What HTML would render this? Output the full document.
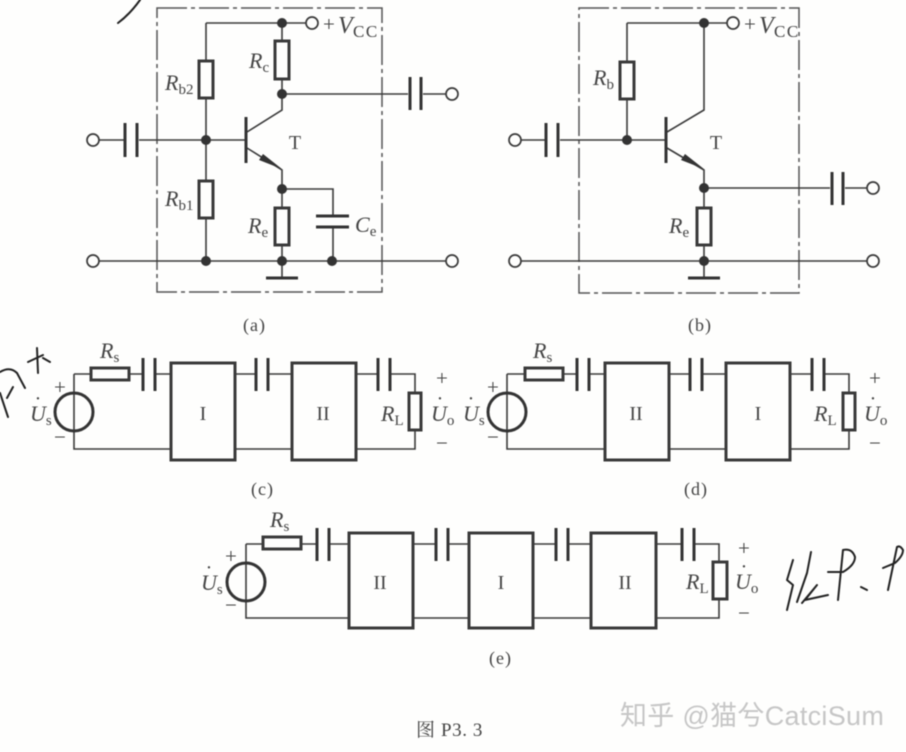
<!DOCTYPE html>
<html>
<head>
<meta charset="utf-8">
<style>
html,body{margin:0;padding:0;background:#fefefd;width:906px;height:752px;overflow:hidden}
svg{display:block}
.w{fill:none;stroke:#3a3a3a;stroke-width:1.6}
.t{fill:none;stroke:#333;stroke-width:3}
.b{fill:#fefefd;stroke:#3a3a3a;stroke-width:3}
.d{fill:none;stroke:#555;stroke-width:1.5;stroke-dasharray:30 4 4 4}
.o{fill:#fefefd;stroke:#3a3a3a;stroke-width:1.7}
.n{fill:#333}
.h{fill:none;stroke:#222;stroke-width:2;stroke-linecap:round;stroke-linejoin:round}
text{font-family:"Liberation Serif","Noto Serif CJK SC",serif;fill:#444}
.r{font-size:22px;font-style:italic}
.s{font-size:15px;font-style:normal}
.c{font-size:18px;letter-spacing:1px}
.p{font-size:21px}
.m{font-size:20px;text-anchor:middle}
.v{font-size:24px;font-style:italic}
.cc{font-size:17px;letter-spacing:1.5px}
</style>
</head>
<body>
<svg width="906" height="752" viewBox="0 0 906 752" xmlns="http://www.w3.org/2000/svg">
<g style="filter:blur(0.45px)">
<!-- (a) -->
<rect class="d" x="157" y="8" width="225" height="284"/>
<path class="w" d="M206 23H306M282 23V94M206 23V140M206 140V261M282 94H408M423 94H446M99 140H124M139 140H246M99 261H446M282 261V278M282 94V110L247 132M247 148L282 170V189M282 189V261M282 189H333V216M333 227V261"/>
<path class="n" d="M282 169L263 154L259 160Z"/>
<path class="t" d="M246 117V163M125 123V157M137 123V157M410 77V110M421 77V110M266 278H298M316 216H349M316 227H349"/>
<rect class="b" x="275" y="41" width="14" height="38"/>
<rect class="b" x="199" y="61" width="14" height="37"/>
<rect class="b" x="199" y="181" width="14" height="37"/>
<rect class="b" x="275" y="208" width="14" height="37"/>
<g class="n"><circle cx="282" cy="23" r="5"/><circle cx="282" cy="94" r="5"/><circle cx="206" cy="140" r="5"/><circle cx="282" cy="189" r="5"/><circle cx="206" cy="261" r="5"/><circle cx="282" cy="261" r="5"/><circle cx="332" cy="261" r="5"/></g>
<g class="o"><circle cx="312" cy="23" r="6"/><circle cx="93" cy="140" r="6"/><circle cx="452" cy="94" r="6"/><circle cx="93" cy="261" r="6"/><circle cx="452" cy="261" r="6"/></g>
<text x="323" y="31" class="p">+</text><text x="338" y="33" class="v">V</text><text x="353" y="37" class="cc">CC</text>
<text x="249" y="68" class="r">R<tspan class="s" dy="4">c</tspan></text>
<text x="165" y="90" class="r">R<tspan class="s" dy="4">b2</tspan></text>
<text x="165" y="206" class="r">R<tspan class="s" dy="4">b1</tspan></text>
<text x="248" y="233" class="r">R<tspan class="s" dy="4">e</tspan></text>
<text x="355" y="232" class="r">C<tspan class="s" dy="4">e</tspan></text>
<text x="295" y="149" class="m">T</text>
<text x="243" y="331" class="c">(a)</text>

<!-- (b) -->
<rect class="d" x="579" y="8" width="220" height="285"/>
<path class="w" d="M627 23H727M704 23V110L667 132M627 23V140M521 140H545M560 140H666M667 148L704 170V261M704 188H830M845 188H867M521 261H867M704 261V278"/>
<path class="n" d="M704 169L685 154L681 160Z"/>
<path class="t" d="M666 117V163M546 123V157M558 123V157M832 172V205M843 172V205M688 278H720"/>
<rect class="b" x="620" y="62" width="14" height="37"/>
<rect class="b" x="697" y="208" width="14" height="37"/>
<g class="n"><circle cx="704" cy="23" r="5"/><circle cx="627" cy="140" r="5"/><circle cx="704" cy="188" r="5"/><circle cx="704" cy="261" r="5"/></g>
<g class="o"><circle cx="733" cy="23" r="6"/><circle cx="515" cy="140" r="6"/><circle cx="873" cy="188" r="6"/><circle cx="515" cy="261" r="6"/><circle cx="873" cy="261" r="6"/></g>
<text x="744" y="31" class="p">+</text><text x="759" y="33" class="v">V</text><text x="774" y="37" class="cc">CC</text>
<text x="593" y="85" class="r">R<tspan class="s" dy="4">b</tspan></text>
<text x="669" y="233" class="r">R<tspan class="s" dy="4">e</tspan></text>
<text x="716" y="149" class="m">T</text>
<text x="688" y="331" class="c">(b)</text>

<!-- (c) -->
<path class="w" d="M74 374H91M129 374H142M156 374H171M235 374H255M269 374H292M356 374H377M391 374H415V393M415 430V449H74V374"/>
<circle cx="74" cy="412" r="19" fill="none" stroke="#333" stroke-width="3"/>
<rect class="b" x="91" y="368" width="38" height="12"/>
<path class="t" d="M143 358V391M155 358V391M256 358V391M268 358V391M378 358V391M390 358V391"/>
<rect class="b" x="171" y="363" width="64" height="97"/>
<rect class="b" x="292" y="363" width="64" height="97"/>
<rect class="b" x="409" y="393" width="12" height="37"/>
<text x="100" y="358" class="r">R<tspan class="s" dy="4">s</tspan></text>
<text x="54" y="394" class="p">+</text><text x="54" y="444" class="p">−</text>
<text x="30" y="421" class="r">U<tspan class="s" dy="4">s</tspan></text><text x="38" y="405" class="m">·</text>
<text x="203" y="420" class="m">I</text><text x="323" y="420" class="m">II</text>
<text x="381" y="421" class="r">R<tspan class="s" dy="4" font-size="13">L</tspan></text>
<text x="431" y="421" class="r">U<tspan class="s" dy="4">o</tspan></text><text x="440" y="405" class="m">·</text>
<text x="436" y="385" class="p">+</text><text x="436" y="450" class="p">−</text>
<text x="251" y="495" class="c">(c)</text>

<!-- (d) -->
<path class="w" d="M507 374H525M563 374H576M590 374H605M669 374H689M703 374H726M790 374H811M825 374H849V393M849 430V449H507V374"/>
<circle cx="507" cy="412" r="19" fill="none" stroke="#333" stroke-width="3"/>
<rect class="b" x="525" y="368" width="38" height="12"/>
<path class="t" d="M577 358V391M589 358V391M690 358V391M702 358V391M812 358V391M824 358V391"/>
<rect class="b" x="605" y="363" width="64" height="97"/>
<rect class="b" x="726" y="363" width="64" height="97"/>
<rect class="b" x="843" y="393" width="12" height="37"/>
<text x="533" y="358" class="r">R<tspan class="s" dy="4">s</tspan></text>
<text x="487" y="394" class="p">+</text><text x="487" y="444" class="p">−</text>
<text x="463" y="421" class="r">U<tspan class="s" dy="4">s</tspan></text><text x="471" y="405" class="m">·</text>
<text x="636" y="420" class="m">II</text><text x="758" y="420" class="m">I</text>
<text x="814" y="421" class="r">R<tspan class="s" dy="4" font-size="13">L</tspan></text>
<text x="864" y="421" class="r">U<tspan class="s" dy="4">o</tspan></text><text x="873" y="405" class="m">·</text>
<text x="869" y="385" class="p">+</text><text x="869" y="450" class="p">−</text>
<text x="684" y="495" class="c">(d)</text>

<!-- (e) -->
<path class="w" d="M246 544H263M301 544H316M330 544H349M413 544H435M449 544H469M533 544H555M569 544H591M656 544H681M695 544H719V562M719 599V618H246V544"/>
<circle cx="246" cy="582" r="19" fill="none" stroke="#333" stroke-width="3"/>
<rect class="b" x="263" y="537" width="38" height="12"/>
<path class="t" d="M317 528V561M329 528V561M436 528V561M448 528V561M556 528V561M568 528V561M682 528V561M694 528V561"/>
<rect class="b" x="349" y="533" width="64" height="95"/>
<rect class="b" x="469" y="533" width="64" height="95"/>
<rect class="b" x="591" y="533" width="65" height="95"/>
<rect class="b" x="713" y="562" width="14" height="37"/>
<text x="270" y="527" class="r">R<tspan class="s" dy="4">s</tspan></text>
<text x="225" y="563" class="p">+</text><text x="225" y="612" class="p">−</text>
<text x="201" y="590" class="r">U<tspan class="s" dy="4">s</tspan></text><text x="209" y="574" class="m">·</text>
<text x="380" y="589" class="m">II</text><text x="501" y="589" class="m">I</text><text x="625" y="589" class="m">II</text>
<text x="686" y="589" class="r">R<tspan class="s" dy="4" font-size="13">L</tspan></text>
<text x="735" y="589" class="r">U<tspan class="s" dy="4">o</tspan></text><text x="744" y="573" class="m">·</text>
<text x="738" y="555" class="p">+</text><text x="738" y="620" class="p">−</text>
<text x="489" y="664" class="c">(e)</text>

<text x="416" y="736" style="font-size:19px;letter-spacing:.6px">图 P3. 3</text>

<!-- handwritten pen marks -->
<path class="h" d="M118 23Q130 14 140 0"/>
<path class="h" d="M0 372Q10 366 17 373L25 388M13 387L7 398M0 393L8 417M28 362L43 355M37 348L38 373M43 358L50 362"/>
<path class="h" d="M793 560L787 580L793 585L787 610M811 552L807 573L797 602M802 603L817 585L805 600L828 595M828 572L843 572Q855 565 855 557Q852 548 843 550L838 600M861 587L867 590M883 568L895 563Q903 556 903 550Q900 545 897 547L888 590"/>

<!-- watermark -->
<text x="620" y="725" style="font-family:'Liberation Sans','Noto Sans CJK SC',sans-serif;font-size:27px;fill:#c6c6c6;letter-spacing:.3px">知乎 @猫兮CatciSum</text>
</g>
</svg>
</body>
</html>
